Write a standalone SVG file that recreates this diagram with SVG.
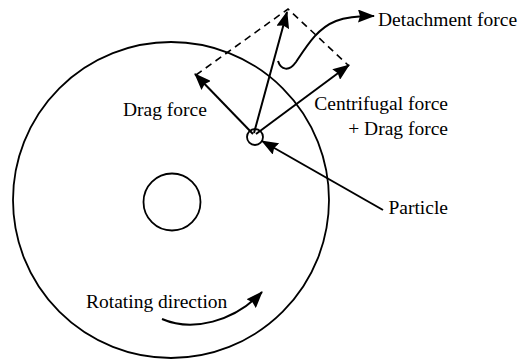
<svg xmlns="http://www.w3.org/2000/svg" width="530" height="359" viewBox="0 0 530 359">
<style>
.ln{fill:none;stroke:#000;stroke-width:2}
.ds{fill:none;stroke:#000;stroke-width:1.6;stroke-dasharray:7 5}
.c{fill:none;stroke:#000;stroke-width:1.8}
text{font-family:"Liberation Serif","Times New Roman",serif;font-size:19.5px;fill:#000}
</style>
<defs>
<marker id="ah" markerUnits="userSpaceOnUse" markerWidth="17" markerHeight="13" refX="16" refY="6.5" orient="auto">
<path d="M0,0 L17,6.5 L0,13 L2,6.5 Z" fill="#000"/>
</marker>
</defs>
<g id="disk"><circle class="c" cx="171" cy="200" r="158"/></g>
<g id="hub"><circle class="c" cx="172" cy="202" r="28.5"/></g>
<g id="particle"><circle class="c" cx="255" cy="137" r="8"/></g>
<g id="connectors">
<polyline class="ds" points="196,75 288,9 349,66"/>
<line class="ln" x1="253" y1="134" x2="195" y2="74" marker-end="url(#ah)"/>
<line class="ln" x1="254" y1="133" x2="287" y2="12" marker-end="url(#ah)"/>
<line class="ln" x1="256" y1="134" x2="349" y2="65" marker-end="url(#ah)"/>
<line class="ln" x1="383" y1="210" x2="262" y2="141" marker-end="url(#ah)"/>
<path class="ln" d="M278,61 C281,70 289,72 296,62 C308,44 318,28 336,21 C346,17 356,16 374,16" marker-end="url(#ah)"/>
<path class="ln" d="M162,319 C192,332 234,322 262,292" marker-end="url(#ah)"/>
</g>
<g id="labels">
<text x="378" y="26">Detachment force</text>
<text x="123" y="116">Drag force</text>
<text x="448" y="110" text-anchor="end">Centrifugal force</text>
<text x="448" y="135" text-anchor="end">+ Drag force</text>
<text x="448" y="214" text-anchor="end">Particle</text>
<text x="86" y="308">Rotating direction</text>
</g>
</svg>
